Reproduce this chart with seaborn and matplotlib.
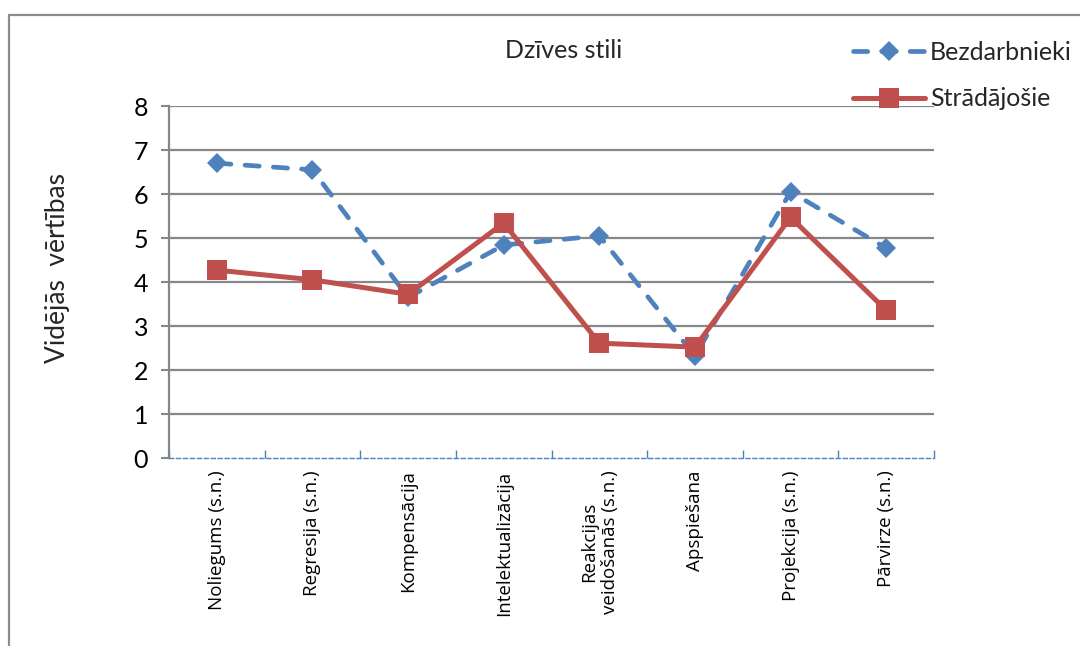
import matplotlib
matplotlib.use("Agg")
import matplotlib.pyplot as plt
from matplotlib.lines import Line2D
from matplotlib.ticker import FixedLocator
import seaborn as sns
import pandas as pd

categories = [
    "Noliegums (s.n.)",
    "Regresija (s.n.)",
    "Kompensācija",
    "Intelektualizācija",
    "Reakcijas\nveidošanās (s.n.)",
    "Apspiešana",
    "Projekcija (s.n.)",
    "Pārvirze (s.n.)",
]
bezdarbnieki = [6.70, 6.55, 3.65, 4.84, 5.05, 2.32, 6.05, 4.77]
stradajosie = [4.27, 4.05, 3.72, 5.34, 2.61, 2.52, 5.47, 3.36]
y_ticks = [0, 1, 2, 3, 4, 5, 6, 7, 8]

title = "Dzīves stili"
y_label = "Vidējās  vērtības"

BLUE = "#4F81BD"
RED = "#C0504D"
GRID = "#878787"

sns.set_theme(style="white")
plt.rcParams["font.family"] = ["Lato", "DejaVu Sans"]

df = pd.DataFrame({"kategorija": categories, "Bezdarbnieki": bezdarbnieki,
                   "Strādājošie": stradajosie})
df["pos"] = range(len(categories))

fig = plt.figure(figsize=(10.8, 6.46), dpi=100)
ax = fig.add_axes([169 / 1080, 1 - 458 / 646, (934 - 169) / 1080, (458 - 106) / 646])

blue_style = dict(color=BLUE, lw=3.4, marker="D", markersize=10.5,
                  markeredgewidth=0, dash_capstyle="round")
red_style = dict(color=RED, lw=3.6, marker="s", markersize=14, markeredgewidth=0)

sns.lineplot(data=df, x="pos", y="Bezdarbnieki", ax=ax, label="Bezdarbnieki",
             zorder=3, **blue_style)
ax.lines[-1].set_dashes([3.0, 3.0])
sns.lineplot(data=df, x="pos", y="Strādājošie", ax=ax, label="Strādājošie",
             zorder=4, **red_style)

ax.set_xlim(-0.5, len(categories) - 0.5)
ax.set_ylim(0, 8)
ax.set_xlabel("")
ax.set_ylabel("")

ax.set_yticks(y_ticks)
ax.set_yticklabels([str(t) for t in y_ticks])
ax.set_xticks(range(len(categories)))
ax.set_xticklabels(categories, rotation=90, ha="center", va="top",
                   multialignment="center")
ax.xaxis.set_minor_locator(FixedLocator([i - 0.5 for i in range(len(categories) + 1)]))
ax.tick_params(axis="x", which="major", length=0, pad=9, bottom=True,
               labelsize=13.5, labelfontfamily="Open Sans", labelcolor="black")
ax.tick_params(axis="x", which="minor", direction="in", length=6, width=1,
               color=BLUE, bottom=True)
ax.tick_params(axis="y", which="major", direction="out", length=6, width=1.5,
               color=GRID, pad=9, left=True, labelsize=18, labelcolor="black")

for v in y_ticks[1:]:
    ax.axhline(v, color=GRID, lw=1.6, zorder=1)

for side in ("top", "right"):
    ax.spines[side].set_visible(False)
ax.spines["left"].set_color(GRID)
ax.spines["left"].set_linewidth(1.6)
ax.spines["bottom"].set_color(BLUE)
ax.spines["bottom"].set_linewidth(1.0)
ax.spines["bottom"].set_linestyle((0, (3, 2)))

ax.legend_.remove()
handles = [Line2D([], [], dashes=[3.0, 3.0], **blue_style),
           Line2D([], [], **red_style)]
fig.legend(handles, ["Bezdarbnieki", "Strādājošie"], loc="upper left",
           bbox_to_anchor=(840 / 1080, 1 - 28 / 646), frameon=False,
           fontsize=18, handlelength=2.9, handletextpad=0.2,
           labelspacing=0.95, borderpad=0)

fig.text(564 / 1080, 1 - 50 / 646, title, ha="center", va="center", fontsize=18)
fig.text(57 / 1080, 1 - 268 / 646, y_label, ha="center", va="center",
         rotation=90, fontsize=19)

# outer chart frame
fig.add_artist(Line2D([9 / 1080, 1.0], [1 - 15 / 646, 1 - 15 / 646],
                      transform=fig.transFigure, color="#8c8c8c", lw=1.6))
fig.add_artist(Line2D([9 / 1080, 9 / 1080], [0.0, 1 - 15 / 646],
                      transform=fig.transFigure, color="#8c8c8c", lw=1.6))

fig.savefig("out.png", dpi=100)
